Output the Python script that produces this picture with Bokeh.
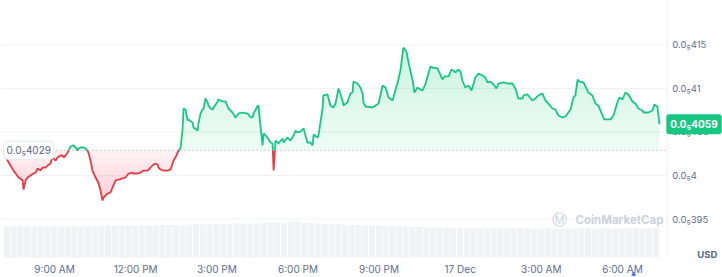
import numpy as np
from bokeh.plotting import figure
from bokeh.models import Range1d, Label
from bokeh.embed import file_html
from bokeh.resources import INLINE

# ---- data (price in units of 1e-6 USD, time in hours since 16 Dec 00:00) ----
hours = [
    7.11, 7.26, 7.48, 7.67, 7.82, 7.85, 7.93, 8.00, 8.11, 8.22, 8.30, 8.37, 8.48, 8.56, 8.67, 8.74, 8.85, 8.93, 8.96, 9.04,
    9.11, 9.22, 9.30, 9.33, 9.41, 9.48, 9.52, 9.59, 9.67, 9.70, 9.78, 9.85, 9.89, 9.96, 10.07, 10.15, 10.22, 10.26, 10.33, 10.40,
    10.52, 10.63, 10.70, 10.77, 10.81, 10.96, 11.07, 11.14, 11.26, 11.37, 11.51, 11.62, 11.74, 11.88, 11.92, 12.07, 12.18, 12.29, 12.44, 12.55,
    12.62, 12.73, 12.81, 12.84, 12.92, 13.03, 13.18, 13.29, 13.40, 13.47, 13.55, 13.66, 13.73, 13.77, 13.84, 13.92, 13.95, 14.10, 14.14, 14.29,
    14.32, 14.40, 14.47, 14.51, 14.58, 14.66, 14.69, 14.77, 14.84, 14.88, 15.03, 15.06, 15.21, 15.32, 15.43, 15.58, 15.69, 15.80, 15.95, 16.06,
    16.14, 16.25, 16.32, 16.36, 16.50, 16.54, 16.62, 16.69, 16.73, 16.87, 16.99, 17.06, 17.10, 17.17, 17.28, 17.43, 17.47, 17.61, 17.72, 17.84,
    17.91, 17.98, 18.09, 18.21, 18.35, 18.46, 18.54, 18.58, 18.72, 18.76, 18.91, 18.94, 19.09, 19.20, 19.31, 19.39, 19.50, 19.65, 19.68, 19.83,
    19.94, 20.02, 20.05, 20.20, 20.31, 20.39, 20.42, 20.50, 20.76, 20.87, 20.98, 21.13, 21.24, 21.35, 21.50, 21.61, 21.68, 21.79, 21.90, 22.01,
    22.09, 22.24, 22.31, 22.42, 22.53, 22.61, 22.72, 22.90, 22.97, 23.16, 23.23, 23.34, 23.42, 23.57, 23.68, 23.75, 23.83, 23.94, 24.01, 24.08,
    24.19, 24.31, 24.42, 24.56, 24.68, 24.82, 24.93, 25.01, 25.12, 25.23, 25.34, 25.41, 25.60, 25.78, 25.93, 26.04, 26.15, 26.30, 26.34, 26.49,
    26.67, 26.78, 26.89, 27.04, 27.15, 27.26, 27.41, 27.52, 27.63, 27.78, 27.89, 28.08, 28.19, 28.26, 28.34, 28.41, 28.56, 28.74, 28.89, 29.00,
    29.11, 29.26, 29.33, 29.56, 29.67, 29.81, 29.89, 30.00, 30.11, 30.22, 30.37, 30.48, 30.59, 30.74, 30.78, 30.96, 31.11, 31.18, 31.29, 31.37,
]
price = [
    4.0290, 4.0172, 4.0057, 3.9977, 3.9943, 3.9839, 3.9943, 3.9977, 4.0000, 4.0023, 4.0034, 4.0080, 4.0057, 4.0092, 4.0092, 4.0115, 4.0138, 4.0230, 4.0195, 4.0172,
    4.0207, 4.0230, 4.0230, 4.0207, 4.0230, 4.0264, 4.0287, 4.0333, 4.0345, 4.0345, 4.0322, 4.0287, 4.0310, 4.0322, 4.0322, 4.0310, 4.0287, 4.0253, 4.0172, 4.0057,
    3.9977, 3.9908, 3.9828, 3.9713, 3.9747, 3.9793, 3.9805, 3.9862, 3.9943, 3.9954, 3.9966, 3.9977, 4.0023, 4.0034, 4.0023, 4.0023, 4.0034, 4.0057, 4.0057, 4.0092,
    4.0115, 4.0138, 4.0126, 4.0092, 4.0069, 4.0057, 4.0057, 4.0069, 4.0172, 4.0207, 4.0264, 4.0322, 4.0517, 4.0770, 4.0759, 4.0632, 4.0644, 4.0609, 4.0552, 4.0517,
    4.0598, 4.0713, 4.0759, 4.0770, 4.0885, 4.0839, 4.0805, 4.0770, 4.0759, 4.0782, 4.0851, 4.0874, 4.0851, 4.0851, 4.0770, 4.0724, 4.0667, 4.0713, 4.0724, 4.0713,
    4.0713, 4.0667, 4.0667, 4.0713, 4.0793, 4.0805, 4.0552, 4.0345, 4.0483, 4.0437, 4.0379, 4.0368, 4.0057, 4.0402, 4.0368, 4.0425, 4.0379, 4.0437, 4.0402, 4.0460,
    4.0517, 4.0494, 4.0505, 4.0540, 4.0379, 4.0379, 4.0345, 4.0471, 4.0437, 4.0460, 4.0770, 4.0920, 4.0931, 4.0805, 4.0782, 4.0828, 4.1000, 4.0862, 4.0805, 4.0839,
    4.0943, 4.0954, 4.1080, 4.1057, 4.1011, 4.0943, 4.0839, 4.0793, 4.0782, 4.0805, 4.0828, 4.1034, 4.1011, 4.0897, 4.0862, 4.0989, 4.1057, 4.1207, 4.1471, 4.1425,
    4.1299, 4.1092, 4.0954, 4.1011, 4.0989, 4.0977, 4.1057, 4.1253, 4.1241, 4.1230, 4.1184, 4.1103, 4.1138, 4.1138, 4.1218, 4.1207, 4.1184, 4.1218, 4.1195, 4.1092,
    4.1011, 4.1034, 4.0977, 4.1126, 4.1172, 4.1149, 4.1126, 4.1069, 4.1080, 4.1046, 4.1000, 4.1057, 4.1069, 4.1057, 4.1057, 4.1000, 4.0885, 4.0885, 4.0920, 4.0931,
    4.0862, 4.0885, 4.0920, 4.0943, 4.0862, 4.0828, 4.0770, 4.0759, 4.0690, 4.0667, 4.0678, 4.0759, 4.0897, 4.0920, 4.1103, 4.1080, 4.1069, 4.0954, 4.0920, 4.0828,
    4.0805, 4.0690, 4.0644, 4.0644, 4.0690, 4.0839, 4.0897, 4.0874, 4.0954, 4.0931, 4.0851, 4.0828, 4.0770, 4.0747, 4.0724, 4.0724, 4.0747, 4.0816, 4.0793, 4.0590,
]
base_price = 4.029
base_text = "0.0\u20854029"
last_text = "0.0\u20854059"

volume = [
    30.8, 31.0, 31.2, 30.9, 31.1, 31.0, 30.8, 31.2, 31.0, 31.1, 30.9, 31.0, 31.3, 31.4, 31.6,
    32.0, 32.1, 31.9, 32.2, 32.0, 32.3, 32.1, 32.0, 32.4, 32.5, 32.6, 32.8,
    33.0, 33.2, 33.1, 33.3, 33.4, 33.5, 33.8,
    34.0, 34.2, 34.3, 34.1, 34.4, 34.5, 34.6, 35.0,
    36.2, 36.0,
    34.6, 34.2, 34.0, 33.8, 33.6, 33.2,
    32.8, 32.6, 32.4, 32.2, 32.3, 32.0, 31.8, 31.5, 31.2,
    30.8, 30.6, 30.5, 30.3, 30.2, 30.0, 29.9, 29.8, 29.6, 29.5,
    29.3, 29.2, 29.0, 29.1, 29.0, 28.9, 29.0, 29.1, 29.0, 28.8, 28.9, 29.0, 29.1, 28.9,
    28.8, 28.9, 29.0, 28.9, 28.8, 28.9, 29.0, 28.8, 28.9, 29.0, 28.9, 28.8, 28.9, 29.0,
]
vol_start = 7.11
vol_step = 0.25

x_ticks = [9, 12, 15, 18, 21, 24, 27, 30]
x_tick_labels = ["9:00 AM", "12:00 PM", "3:00 PM", "6:00 PM", "9:00 PM", "17 Dec", "3:00 AM", "6:00 AM"]
y_ticks = [3.95, 4.0, 4.05, 4.1, 4.15]
y_tick_labels = ["0.0\u2085395", "0.0\u20854", "0.0\u2085405", "0.0\u208541", "0.0\u2085415"]

# layout constants (data-space positions of the plot panel edges)
X_LEFT, X_EDGE, X_RIGHT = 7.0, 31.66, 33.70
Y_BOTTOM, Y_TOP = 3.8828, 4.2011
Y_PANEL_BOTTOM = 3.9057
Y_XLABELS = 3.8931

GREEN = "#16c784"
RED = "#ea3943"
LABEL = "#616e85"
GRID = "#eff2f5"
FONT = "Inter"

# ---- split series at the baseline ----
t, v = [], []
for i in range(len(hours)):
    if i > 0:
        p0, p1 = price[i - 1], price[i]
        if (p0 - base_price) * (p1 - base_price) < 0:
            f = (base_price - p0) / (p1 - p0)
            t.append(hours[i - 1] + f * (hours[i] - hours[i - 1]))
            v.append(base_price)
    t.append(hours[i])
    v.append(price[i])
t = np.array(t)
v = np.array(v)
up = np.maximum(v, base_price)
dn = np.minimum(v, base_price)
g_line = np.where(v >= base_price, v, np.nan)
r_line = np.where(v <= base_price, v, np.nan)

p = figure(width=722, height=277, x_range=Range1d(X_LEFT, X_RIGHT), y_range=Range1d(Y_BOTTOM, Y_TOP),
           x_axis_location=None, y_axis_location=None, output_backend="svg", toolbar_location=None,
           min_border=0, background_fill_color="white", border_fill_color="white")
p.outline_line_color = None
p.grid.visible = False

# horizontal grid + right separator
p.segment(x0=[X_LEFT] * len(y_ticks), x1=[X_EDGE] * len(y_ticks), y0=y_ticks, y1=y_ticks,
          line_color=GRID, line_width=1)
p.segment(x0=[X_EDGE], x1=[X_EDGE], y0=[Y_PANEL_BOTTOM], y1=[Y_TOP], line_color=GRID, line_width=1)

# volume bars
p.extra_y_ranges = {"vol": Range1d(-20, 257)}
vol_x = vol_start + vol_step * (np.arange(len(volume)) + 0.5)
p.vbar(x=vol_x, top=volume, bottom=0, width=vol_step * 0.88, y_range_name="vol",
       fill_color="#f0f2f5", line_color=None)

# gradient-like fills
N = 8
for k in range(N):
    lvl = base_price + (4.16 - base_price) * k / N
    y1 = np.minimum(lvl, up)
    p.varea(x=t, y1=y1, y2=up, fill_color=GREEN, fill_alpha=0.08 if k == 0 else 0.022)
for k in range(N):
    lvl = base_price - (base_price - 3.97) * k / N
    y2 = np.maximum(lvl, dn)
    p.varea(x=t, y1=dn, y2=y2, fill_color=RED, fill_alpha=0.07 if k == 0 else 0.022)

# baseline (dotted)
p.segment(x0=[X_LEFT], x1=[X_EDGE], y0=[base_price], y1=[base_price],
          line_color="#a6afc0", line_dash="1 3", line_width=1)

p.line(t, g_line, line_color=GREEN, line_width=1.8)
p.line(t, r_line, line_color=RED, line_width=1.8)

# tick labels as text
p.text(x=[X_EDGE] * len(y_ticks), y=y_ticks, text=y_tick_labels, x_offset=5,
       text_font={"value": FONT}, text_font_size="9.5px", text_color=LABEL,
       text_baseline="middle", text_align="left")
p.text(x=x_ticks, y=[Y_XLABELS] * len(x_ticks), text=x_tick_labels,
       text_font={"value": FONT}, text_font_size="10px", text_color=LABEL,
       text_baseline="middle", text_align="center")

# labels
p.add_layout(Label(x=X_LEFT, y=base_price, x_offset=3, text=base_text, text_font=FONT,
                   text_font_size="10px", text_color="#58667e", text_baseline="middle",
                   background_fill_color="white", background_fill_alpha=0.95,
                   border_line_color="#e6eaf0", padding=3, border_radius=4))
p.add_layout(Label(x=X_EDGE, y=price[-1], x_offset=-1, text=last_text, text_font=FONT,
                   text_font_size="10px", text_font_style="bold", text_color="white",
                   text_baseline="middle", background_fill_color=GREEN,
                   padding=4, border_radius=3))
p.add_layout(Label(x=27.67, y=3.9494, text="\u24c2", text_font="DejaVu Sans",
                   text_font_size="15px", text_color="#cdd3de", text_align="center",
                   text_baseline="middle"))
p.add_layout(Label(x=28.26, y=3.9494, text="CoinMarketCap", text_font=FONT,
                   text_font_size="11.5px", text_font_style="bold", text_color="#cdd3de",
                   text_baseline="middle"))
p.add_layout(Label(x=33.14, y=3.9092, text="USD", text_font=FONT, text_font_size="9.5px",
                   text_font_style="bold", text_color="#58667e", text_align="center",
                   text_baseline="middle"))
p.add_layout(Label(x=30.41, y=3.8885, text="\u25b2", text_font="DejaVu Sans",
                   text_font_size="6px", text_color="#3861fb", text_align="center",
                   text_baseline="middle"))

open("out.html", "w").write(file_html(p, INLINE))
